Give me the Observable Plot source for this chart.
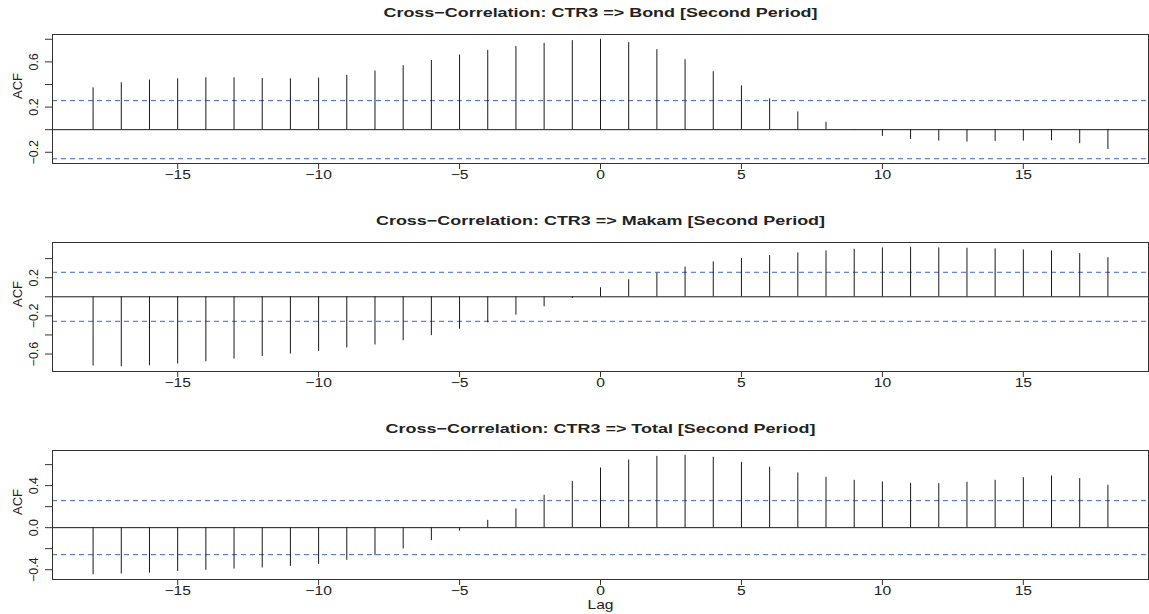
<!DOCTYPE html>
<html><head><meta charset="utf-8">
<script src="https://cdn.jsdelivr.net/npm/d3@7"></script>
<script src="https://cdn.jsdelivr.net/npm/@observablehq/plot@0.6"></script>
<style>
body{margin:0;background:#fff;overflow:hidden;}
#chart{width:1149px;height:614px;position:relative;overflow:hidden;}
#chart svg{display:block;}
</style></head><body><div id="chart"></div>
<script>
const lags = [-18,-17,-16,-15,-14,-13,-12,-11,-10,-9,-8,-7,-6,-5,-4,-3,-2,-1,0,1,2,3,4,5,6,7,8,9,10,11,12,13,14,15,16,17,18];
const bondACF = [0.370,0.415,0.439,0.450,0.459,0.459,0.453,0.450,0.456,0.480,0.519,0.566,0.613,0.661,0.702,0.735,0.764,0.788,0.800,0.770,0.708,0.619,0.513,0.388,0.273,0.157,0.065,-0.006,-0.059,-0.086,-0.101,-0.110,-0.104,-0.101,-0.098,-0.124,-0.175];
const makamACF = [-0.726,-0.733,-0.723,-0.705,-0.681,-0.653,-0.625,-0.600,-0.572,-0.537,-0.505,-0.460,-0.407,-0.340,-0.274,-0.193,-0.105,-0.018,0.095,0.179,0.246,0.312,0.365,0.400,0.432,0.460,0.481,0.498,0.512,0.519,0.512,0.509,0.502,0.491,0.481,0.453,0.410];
const totalACF = [-0.448,-0.441,-0.432,-0.416,-0.406,-0.394,-0.384,-0.368,-0.349,-0.311,-0.267,-0.203,-0.124,-0.032,0.070,0.178,0.308,0.441,0.568,0.644,0.679,0.689,0.670,0.622,0.575,0.521,0.479,0.451,0.435,0.422,0.419,0.432,0.451,0.476,0.492,0.467,0.403];
const titles = ["Cross\u2212Correlation: CTR3 => Bond [Second Period]","Cross\u2212Correlation: CTR3 => Makam [Second Period]","Cross\u2212Correlation: CTR3 => Total [Second Period]"];
const ciBound = 0.257;
const xTicks = [-15,-10,-5,0,5,10,15];
const yTicks = [[-0.2,0,0.2,0.4,0.6,0.8],[-0.6,-0.4,-0.2,0,0.2,0.4],[-0.4,-0.2,0,0.2,0.4,0.6]];
const yLabels = [[-0.2,0.2,0.6],[-0.6,-0.2,0.2],[-0.4,0,0.4]];
const yLabel = "ACF";
const xLabel = "Lag";

const series = [bondACF, makamACF, totalACF];
const fmt = d3.format(".1f");
const chart = document.getElementById("chart");

function rExtend(lo, hi){ const r = hi - lo; return [lo - 0.04*r, hi + 0.04*r]; }
const xDom = rExtend(d3.min(lags), d3.max(lags));

series.forEach((vals, i) => {
  const data = lags.map((l, j) => ({lag: l, acf: vals[j]}));
  const yDom = rExtend(Math.min(d3.min(vals), -ciBound), Math.max(d3.max(vals), ciBound));
  const labelSet = new Set(yLabels[i]);
  const marks = [
    Plot.ruleY([ciBound, -ciBound], {stroke: "#3d64cc", strokeWidth: 1, strokeDasharray: "5,4"}),
    Plot.ruleY([0], {stroke: "#1a1a1a", strokeWidth: 1}),
    Plot.ruleX(data, {x: "lag", y1: 0, y2: "acf", stroke: "#1a1a1a", strokeWidth: 1}),
    Plot.frame({stroke: "#333", strokeWidth: 1}),
    Plot.axisX({ticks: xTicks, tickSize: 6, tickPadding: 1, tickFormat: d3.format("d"), fontSize: 12.5, stroke: "#333", label: null}),
    Plot.axisY({ticks: yTicks[i], tickSize: 7, tickPadding: 8, tickRotate: -90, fontSize: 12.5,
      tickFormat: d => labelSet.has(d) ? fmt(d) : "", stroke: "#333", label: null}),
    Plot.text([yLabel], {text: d => d, frameAnchor: "left", dx: -35, rotate: -90, fontSize: 13, lineAnchor: "middle", fill: "#222"}),
    Plot.text([titles[i]], {text: d => d, frameAnchor: "top", dy: -22, fontSize: 13, fontWeight: "bold", lineAnchor: "middle", fill: "#222", className: "ttl"})
  ];
  if (i === 2) marks.push(Plot.text([xLabel], {text: d => d, frameAnchor: "bottom", dy: 25, fontSize: 13, lineAnchor: "middle", fill: "#222", className: "xlab"}));
  const svg = Plot.plot({
    width: 1149, height: 208,
    marginLeft: 52, marginRight: 1, marginTop: 34, marginBottom: 45,
    x: {domain: xDom, axis: null},
    y: {domain: yDom, axis: null},
    style: {fontFamily: "'Liberation Sans', Arial, sans-serif", color: "#222", background: "#fff", overflow: "visible"},
    marks
  });
  chart.appendChild(svg);
});

// the reference's lettering is horizontally wide; widen horizontal texts to match
function widen(sel, k){
  d3.selectAll(sel).each(function(){
    const w = this.getComputedTextLength();
    if (w > 0) {
      this.setAttribute("textLength", (w * k).toFixed(1));
      this.setAttribute("lengthAdjust", "spacingAndGlyphs");
    }
  });
}
widen(".ttl text", 1.38);
widen('g[aria-label="x-axis tick label"] text', 1.25);
widen(".xlab text", 1.2);
</script></body></html>
